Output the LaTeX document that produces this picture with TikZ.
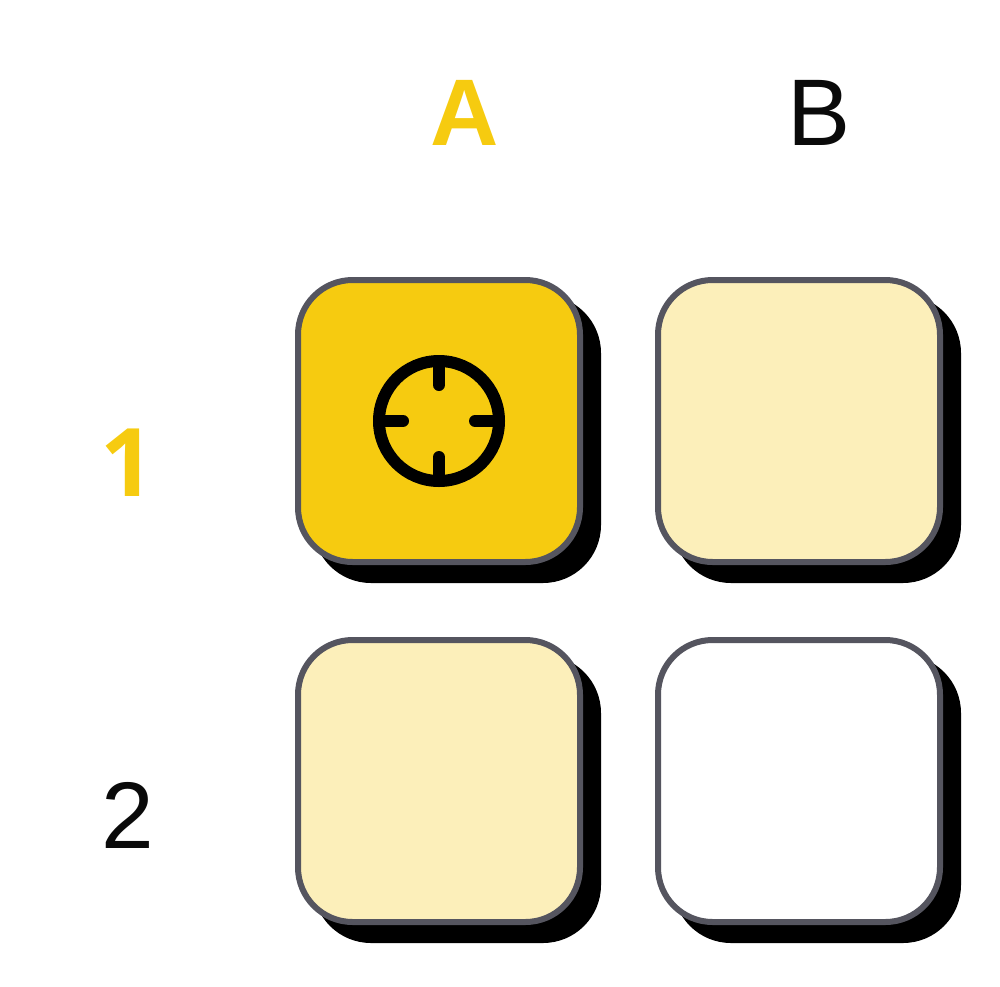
\documentclass[tikz,border=0pt]{standalone}
\usepackage{fontspec}
\setmainfont{Liberation Sans}
\newfontfamily\digitfont{Open Sans}
\definecolor{gold}{HTML}{F6CB10}
\definecolor{pale}{HTML}{FCEFBA}
\definecolor{edge}{HTML}{55555F}
\definecolor{ink}{HTML}{0A0A0A}
\tikzset{
  card/.style={rectangle,rounded corners=41pt,minimum width=211.5pt,minimum height=211.5pt,inner sep=0pt,outer sep=0pt,draw=edge,line width=4.5pt},
  cardshadow/.style={rectangle,rounded corners=43.5pt,minimum width=216pt,minimum height=216pt,inner sep=0pt,outer sep=0pt,fill=black},
  hdr/.style={inner sep=0pt,outer sep=0pt,anchor=base,font=\fontsize{71pt}{71pt}\selectfont,text=ink},
  hdrsel/.style={hdr,font=\fontsize{71pt}{71pt}\selectfont\bfseries,text=gold},
  iconline/.style={draw=black,line width=9pt,line cap=round},
}
\begin{document}
\begin{tikzpicture}[x=0.75pt,y=-0.75pt]
\useasboundingbox (0,0) rectangle (1000,986);
\node[cardshadow] (s1) at (457,439) {};
\node[cardshadow] (s2) at (817,439) {};
\node[cardshadow] (s3) at (457,799) {};
\node[cardshadow] (s4) at (817,799) {};
\node[card,fill=gold] (a1) at (439,421) {};
\node[card,fill=pale] (b1) at (799,421) {};
\node[card,fill=pale] (a2) at (439,781) {};
\node[card,fill=white] (b2) at (799,781) {};
\node[draw=black,line width=9pt,circle,minimum size=90pt,inner sep=0pt,outer sep=0pt] (ring) at (a1.center) {};
\coordinate (tt) at (439,385);
\coordinate (tb) at (439,457);
\coordinate (tl) at (403,421);
\coordinate (tr) at (475,421);
\draw[iconline,line cap=butt] (ring.north) -- (439,375);
\draw[iconline] (439,375) -- (tt);
\draw[iconline,line cap=butt] (ring.south) -- (439,467);
\draw[iconline] (439,467) -- (tb);
\draw[iconline,line cap=butt] (ring.west) -- (393,421);
\draw[iconline] (393,421) -- (tl);
\draw[iconline,line cap=butt] (ring.east) -- (485,421);
\draw[iconline] (485,421) -- (tr);
\node[hdrsel] (ca) at (465,145) {A};
\node[hdr] (cb) at (819,145) {B};
\node[hdrsel,font=\fontsize{71pt}{71pt}\selectfont\digitfont\bfseries] (r1) at (128,496) {1};
\node[hdr] (r2) at (128,848) {2};
\end{tikzpicture}
\end{document}
